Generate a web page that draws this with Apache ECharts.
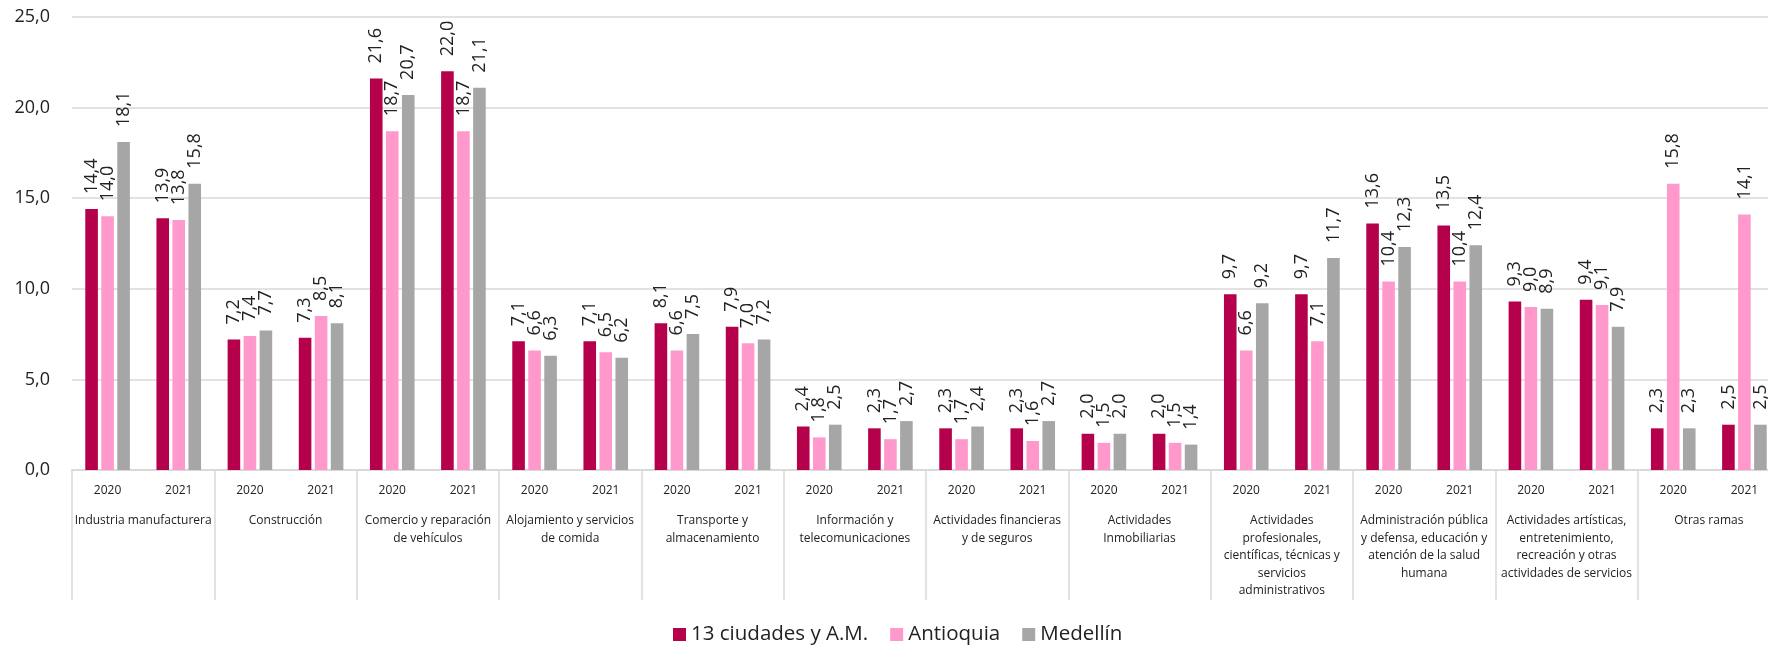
<!DOCTYPE html>
<html>
<head>
<meta charset="utf-8">
<script src="https://cdn.jsdelivr.net/npm/echarts@6/dist/echarts.min.js"></script>
<style>
	html,body{margin:0;padding:0;background:#fff;}
	#chart{width:1768px;height:647px;}
</style>
</head>
<body>
<div id="chart"></div>
<script>
// ramas de actividad (grupo) y años (subcategoría)
const ramas = [
	'Industria manufacturera',
	'Construcción',
	'Comercio y reparación\nde vehículos',
	'Alojamiento y servicios\nde comida',
	'Transporte y\nalmacenamiento',
	'Información y\ntelecomunicaciones',
	'Actividades financieras\ny de seguros',
	'Actividades\nInmobiliarias',
	'Actividades\nprofesionales,\ncientíficas, técnicas y\nservicios\nadministrativos',
	'Administración pública\ny defensa, educación y\natención de la salud\nhumana',
	'Actividades artísticas,\nentretenimiento,\nrecreación y otras\nactividades de servicios',
	'Otras ramas'
]
const anios = ['2020', '2021']

// valores por rama: 2020, 2021
const ciudades = [14.4, 13.9, 7.2, 7.3, 21.6, 22.0, 7.1, 7.1, 8.1, 7.9, 2.4, 2.3, 2.3, 2.3, 2.0, 2.0, 9.7, 9.7, 13.6, 13.5, 9.3, 9.4, 2.3, 2.5]
const antioquia = [14.0, 13.8, 7.4, 8.5, 18.7, 18.7, 6.6, 6.5, 6.6, 7.0, 1.8, 1.7, 1.7, 1.6, 1.5, 1.5, 6.6, 7.1, 10.4, 10.4, 9.0, 9.1, 15.8, 14.1]
const medellin = [18.1, 15.8, 7.7, 8.1, 20.7, 21.1, 6.3, 6.2, 7.5, 7.2, 2.5, 2.7, 2.4, 2.7, 2.0, 1.4, 9.2, 11.7, 12.3, 12.4, 8.9, 7.9, 2.3, 2.5]

const nombres = ['13 ciudades y A.M.', 'Antioquia', 'Medellín']
const colores = ['#B5004B', '#FF99CC', '#A6A6A6']

const yMin = 0
const yMax = 25
const yStep = 5

const font = '"Open Sans", "Noto Sans", sans-serif'
const coma = v => v.toFixed(1).replace('.', ',')

const subcats = []
ramas.forEach(() => anios.forEach(a => subcats.push(a)))

const series = [ciudades, antioquia, medellin].map((d, i) => ({
	type: 'bar',
	name: nombres[i],
	xAxisIndex: 0,
	barWidth: 12.6,
	barGap: '27%',
	itemStyle: {color: colores[i]},
	label: {
		show: true,
		position: 'top',
		rotate: 90,
		align: 'left',
		verticalAlign: 'middle',
		distance: 15,
		fontFamily: font,
		fontSize: 18,
		color: '#222',
		formatter: p => coma(p.value)
	},
	data: d
}))

const chart = echarts.init(document.getElementById('chart'))
chart.setOption({
	animation: false,
	textStyle: {fontFamily: font},
	grid: {left: 72, right: -12, top: 17, bottom: 177, containLabel: false, outerBoundsMode: 'none'},
	legend: {
		data: nombres,
		top: 624,
		left: 673,
		padding: 0,
		itemWidth: 13,
		itemHeight: 13,
		itemGap: 22,
		icon: 'rect',
		textStyle: {fontFamily: font, fontSize: 20.5, color: '#222'}
	},
	xAxis: [
		{
			type: 'category',
			data: subcats,
			position: 'bottom',
			axisLine: {show: false},
			axisTick: {show: false},
			axisLabel: {interval: 0, margin: 13, fontSize: 12, lineHeight: 16, color: '#222', fontFamily: font}
		},
		{
			type: 'category',
			data: ramas,
			position: 'bottom',
			axisLine: {show: true, lineStyle: {color: '#D9D9D9', width: 2}},
			axisTick: {show: true, length: 130, lineStyle: {color: '#D9D9D9', width: 1.5}},
			axisLabel: {interval: 0, margin: 42, fontSize: 12, lineHeight: 17.5, color: '#222', fontFamily: font, align: 'center', verticalAlign: 'top'}
		}
	],
	yAxis: {
		type: 'value',
		min: yMin,
		max: yMax,
		interval: yStep,
		axisLine: {show: false},
		axisTick: {show: false},
		splitLine: {lineStyle: {color: '#D9D9D9', width: 1.5}},
		axisLabel: {margin: 22, fontSize: 18, color: '#222', fontFamily: font, formatter: v => coma(v)}
	},
	series: series
})
</script>
</body>
</html>
